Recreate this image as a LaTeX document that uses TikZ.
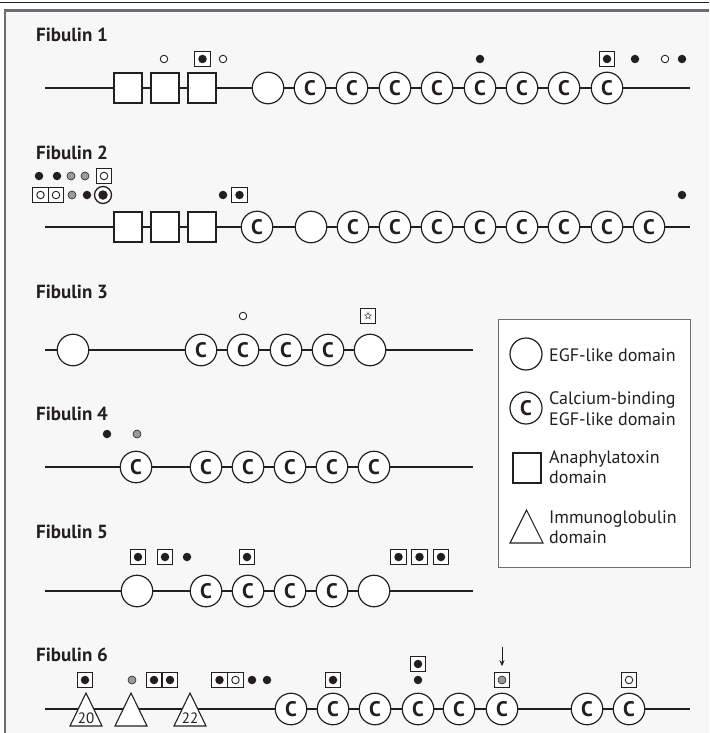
\documentclass[tikz,border=0pt]{standalone}
\usepackage{fontspec}
\setmainfont{PT Sans}
\usetikzlibrary{arrows.meta,shapes.geometric}

\definecolor{ink}{HTML}{231F20}
\definecolor{panel}{HTML}{F7F7F7}
\definecolor{framegray}{HTML}{6D6E71}
\definecolor{midgray}{HTML}{9A9A9A}

\tikzset{
  backbone/.style={line width=2.6pt, draw=ink},
  egf/.style={circle, draw=ink, line width=1.2pt, fill=white, minimum size=31.5pt, inner sep=0pt},
  cegf/.style={egf, font=\bfseries\fontsize{21}{21}\selectfont, text=ink},
  ana/.style={rectangle, draw=ink, line width=1.2pt, fill=white, minimum width=28pt, minimum height=30pt, inner sep=0pt},
  igtri/.style={draw=ink, line width=1.1pt, fill=white, line join=miter},
  ignum/.style={anchor=base, font=\fontsize{15}{15}\selectfont, text=ink, inner sep=0pt},
  title/.style={anchor=base west, font=\bfseries\fontsize{19}{20}\selectfont, text=ink, inner sep=0pt},
  fdot/.style={circle, fill=ink, minimum size=8.5pt, inner sep=0pt},
  odot/.style={circle, draw=ink, line width=0.9pt, fill=white, minimum size=7.5pt, inner sep=0pt},
  gdot/.style={circle, draw=ink, line width=0.6pt, fill=midgray, minimum size=8pt, inner sep=0pt},
  mbox/.style={rectangle, draw=ink, line width=1.1pt, fill=white, minimum size=15.5pt, inner sep=0pt},
  ring/.style={circle, draw=ink, line width=1.3pt, fill=white, minimum size=17pt, inner sep=0pt},
  starmark/.style={star, star points=5, star point ratio=2.2, draw=ink!75, line width=0.6pt, minimum size=7pt, inner sep=0pt},
  legtext/.style={anchor=base west, font=\fontsize{18}{20}\selectfont, text=ink, inner sep=0pt},
}

% a boxed marker: name, x, y, style of the mark inside
\newcommand\markbox[4]{%
  \node[mbox] (#1) at (#2,#3) {};
  \node[#4] (#1-in) at (#1.center) {};}
% an immunoglobulin triangle on the backbone: name, x, y of backbone, label
\newcommand\igdom[4]{%
  \coordinate (#1) at (#2,#3);
  \draw[igtri, shift={(#2,#3)}] (-16,17) -- (0,-16) -- (16,17) -- cycle;
  \node[ignum] (#1-n) at ([yshift=-14pt]#1) {#4};}

\begin{document}
\begin{tikzpicture}[x=1pt,y=-1pt]
  \useasboundingbox (0,0) rectangle (709,733);
  \fill[white] (0,0) rectangle (709,733);
  \fill[panel] (5,10) rectangle (709,733);
  \draw[ink, line width=1.6pt] (0,2.7) -- (709,2.7);
  \draw[framegray, line width=2.2pt] (5,733) -- (5,10.5) -- (709,10.5);

  % ---------------- Fibulin 1
  \node[title] (t1) at (36,41.5) {Fibulin 1};
  \coordinate (f1s) at (45,88);
  \coordinate (f1e) at (690,88);
  \draw[backbone] (f1s) -- (f1e);
  \foreach \x [count=\i] in {128,165,202} \node[ana] (f1a\i) at (\x,88) {};
  \node[egf] (f1e1) at (268,88) {};
  \foreach \x [count=\i] in {310,352,395,437,480,522,564,607} \node[cegf] (f1c\i) at (\x,88) {C};
  \node[odot] (f1m1) at (164,59) {};
  \markbox{f1m2}{202.5}{59}{fdot}
  \node[odot] (f1m3) at (223,59) {};
  \node[fdot] (f1m4) at (480,59) {};
  \markbox{f1m5}{607}{59}{fdot}
  \node[fdot] (f1m6) at (635,59) {};
  \node[odot] (f1m7) at (665,59) {};
  \node[fdot] (f1m8) at (682,59) {};

  % ---------------- Fibulin 2
  \node[title] (t2) at (36,159.3) {Fibulin 2};
  \coordinate (f2s) at (45,227);
  \coordinate (f2e) at (690,227);
  \draw[backbone] (f2s) -- (f2e);
  \foreach \x [count=\i] in {128,165,202} \node[ana] (f2a\i) at (\x,227) {};
  \node[cegf] (f2c0) at (257,227) {C};
  \node[egf] (f2e1) at (311,227) {};
  \foreach \x [count=\i] in {353,395,437,480,522,564,607,649} \node[cegf] (f2c\i) at (\x,227) {C};
  \node[fdot] (f2m1) at (39,176) {};
  \node[fdot] (f2m2) at (57,176) {};
  \node[gdot] (f2m3) at (71,176) {};
  \node[gdot] (f2m4) at (85,176) {};
  \markbox{f2m5}{104}{176}{odot}
  \markbox{f2m6}{40.5}{195}{odot}
  \markbox{f2m7}{56}{195}{odot}
  \node[gdot] (f2m8) at (72,195) {};
  \node[fdot] (f2m9) at (87,195) {};
  \node[ring] (f2m10) at (103,195) {};
  \node[fdot, minimum size=9.5pt] (f2m10-in) at (f2m10.center) {};
  \node[fdot] (f2m11) at (223,195) {};
  \markbox{f2m12}{239.5}{195}{fdot}
  \node[fdot] (f2m13) at (682,195) {};

  % ---------------- Fibulin 3
  \node[title] (t3) at (36,298.3) {Fibulin 3};
  \coordinate (f3s) at (45,350);
  \coordinate (f3e) at (473,350);
  \draw[backbone] (f3s) -- (f3e);
  \node[egf] (f3e1) at (73,350) {};
  \foreach \x [count=\i] in {201,243,286,328} \node[cegf] (f3c\i) at (\x,350) {C};
  \node[egf] (f3e2) at (370,350) {};
  \node[odot] (f3m1) at (243,316) {};
  \markbox{f3m2}{368}{316}{starmark}

  % ---------------- Fibulin 4
  \node[title] (t4) at (36,420) {Fibulin 4};
  \coordinate (f4s) at (45,467);
  \coordinate (f4e) at (473,467);
  \draw[backbone] (f4s) -- (f4e);
  \node[cegf] (f4c0) at (136,467) {C};
  \foreach \x [count=\i] in {206,248,290,332,374} \node[cegf] (f4c\i) at (\x,467) {C};
  \node[fdot] (f4m1) at (107,434) {};
  \node[gdot] (f4m2) at (137,434) {};

  % ---------------- Fibulin 5
  \node[title] (t5) at (36,538.3) {Fibulin 5};
  \coordinate (f5s) at (45,591);
  \coordinate (f5e) at (473,591);
  \draw[backbone] (f5s) -- (f5e);
  \node[egf] (f5e1) at (137,591) {};
  \foreach \x [count=\i] in {206,248,290,332} \node[cegf] (f5c\i) at (\x,591) {C};
  \node[egf] (f5e2) at (374,591) {};
  \markbox{f5m1}{138}{557}{fdot}
  \markbox{f5m2}{165}{557}{fdot}
  \node[fdot] (f5m3) at (187,557) {};
  \markbox{f5m4}{247}{557}{fdot}
  \markbox{f5m5}{398.5}{557}{fdot}
  \markbox{f5m6}{419.5}{557}{fdot}
  \markbox{f5m7}{441}{557}{fdot}

  % ---------------- Fibulin 6
  \node[title] (t6) at (36,661.7) {Fibulin 6};
  \coordinate (f6s) at (45,709);
  \coordinate (f6e) at (690,709);
  \draw[backbone] (f6s) -- (f6e);
  \igdom{f6i1}{86}{709}{20}
  \igdom{f6i2}{131}{709}{}
  \igdom{f6i3}{190}{709}{22}
  \foreach \x [count=\i] in {291,333,375,418,459,502,587,629} \node[cegf] (f6c\i) at (\x,709) {C};
  \markbox{f6m1}{85}{680}{fdot}
  \node[gdot] (f6m2) at (132,680) {};
  \markbox{f6m3}{154}{680}{fdot}
  \markbox{f6m4}{170}{680}{fdot}
  \markbox{f6m5}{219.5}{680}{fdot}
  \markbox{f6m6}{235.5}{680}{odot}
  \node[fdot] (f6m7) at (252,680) {};
  \node[fdot] (f6m8) at (267,680) {};
  \markbox{f6m9}{333}{680}{fdot}
  \markbox{f6m10}{418}{664}{fdot}
  \node[fdot] (f6m11) at (418,680) {};
  \markbox{f6m12}{502}{680}{gdot}
  \markbox{f6m13}{629}{680}{odot}
  \coordinate (f6arr) at (502,647);
  \draw[ink, line width=1pt, -{Stealth[length=6pt,width=5pt]}, shorten >=5.5pt] (f6arr) -- (f6m12.north);

  % ---------------- Legend
  \node[draw=framegray, line width=1.4pt, fill=white, anchor=north west,
        minimum width=192pt, minimum height=248pt, inner sep=0pt] (legend) at (498,319) {};
  \node[egf, minimum size=32pt] (lg1) at (526,354) {};
  \node[legtext] (lt1) at (549,361) {EGF-like domain};
  \node[cegf, minimum size=32pt] (lg2) at (526,408) {C};
  \node[legtext] (lt2a) at (549,404) {Calcium-binding};
  \node[legtext] (lt2b) at (549,425) {EGF-like domain};
  \node[ana, minimum width=28pt, minimum height=30pt] (lg3) at (527,468) {};
  \node[legtext] (lt3a) at (549,463) {Anaphylatoxin};
  \node[legtext] (lt3b) at (549,483) {domain};
  \coordinate (lg4) at (526.5,526.5);
  \draw[igtri, shift={(526.5,526.5)}] (-16.5,16.5) -- (0,-16.5) -- (16.5,16.5) -- cycle;
  \node[legtext] (lt4a) at (549,523) {Immunoglobulin};
  \node[legtext] (lt4b) at (549,543) {domain};
\end{tikzpicture}
\end{document}
